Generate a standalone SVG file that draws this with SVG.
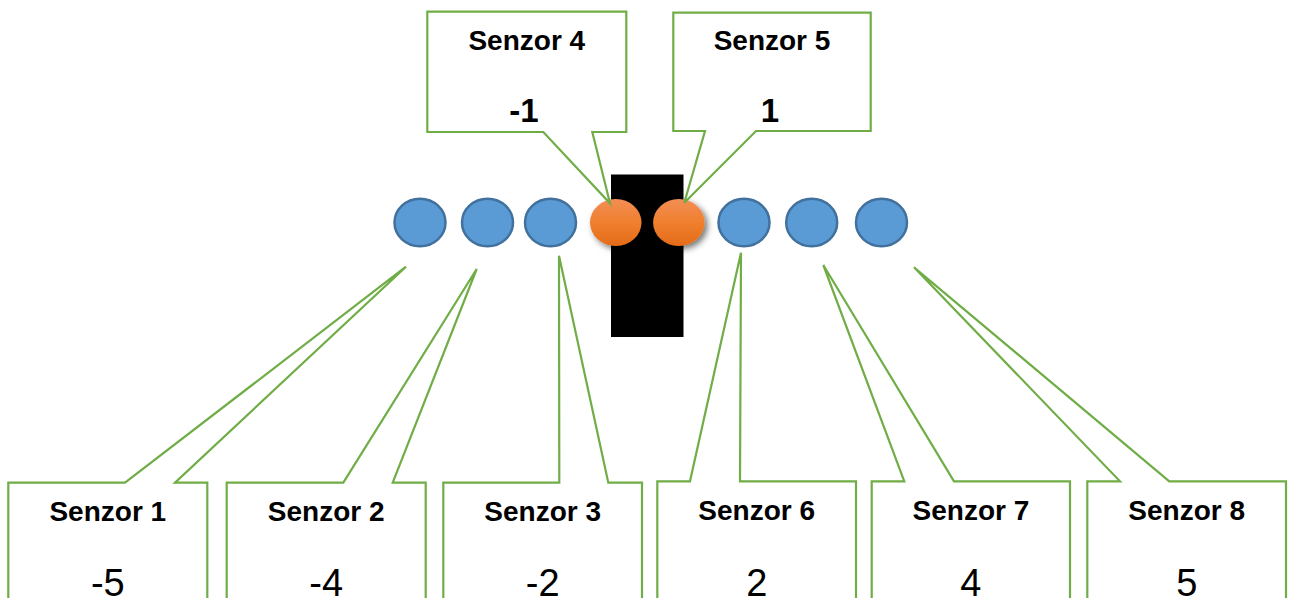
<svg xmlns="http://www.w3.org/2000/svg" width="1292" height="598" viewBox="0 0 1292 598">
  <defs>
    <linearGradient id="orangeFill" x1="0" y1="0" x2="0" y2="1">
      <stop offset="0" stop-color="#F38E55"/>
      <stop offset="0.5" stop-color="#F07F2E"/>
      <stop offset="1" stop-color="#E46C18"/>
    </linearGradient>
    <filter id="softShadow" x="-40%" y="-40%" width="180%" height="180%">
      <feDropShadow dx="3" dy="3" stdDeviation="3" flood-color="#000" flood-opacity="0.55"/>
    </filter>
    <style>
      .sensor { fill: #5B9BD5; stroke: #41719C; stroke-width: 2.5; }
      .active { fill: url(#orangeFill); filter: url(#softShadow); }
      .callout { fill: #FFFFFF; stroke: #70AD47; stroke-width: 2.2; stroke-linejoin: miter; }
      .title { font-family: "Liberation Sans", Arial, sans-serif; font-weight: bold; font-size: 28px; fill: #000; text-anchor: middle; }
      .valTop { font-family: "Liberation Sans", Arial, sans-serif; font-weight: bold; font-size: 33px; fill: #000; text-anchor: middle; }
      .valBottom { font-family: "Liberation Sans", Arial, sans-serif; font-weight: normal; font-size: 38px; fill: #000; text-anchor: middle; }
    </style>
  </defs>

  <rect width="1292" height="598" fill="#FFFFFF"/>

  <!-- line strip under the two middle sensors -->
  <rect id="line" x="611" y="174.5" width="72.5" height="162.5" fill="#000000"/>

  <!-- sensor row -->
  <g id="sensors">
    <ellipse id="s1" class="sensor" cx="420" cy="222.5" rx="25.5" ry="23.8"/>
    <ellipse id="s2" class="sensor" cx="487.5" cy="222.5" rx="25.5" ry="23.8"/>
    <ellipse id="s3" class="sensor" cx="550.5" cy="222.5" rx="25.5" ry="23.8"/>
    <ellipse id="s4" class="active" cx="615.7" cy="222.5" rx="25.7" ry="23.5"/>
    <ellipse id="s5" class="active" cx="678.8" cy="222.5" rx="25.7" ry="23.5"/>
    <ellipse id="s6" class="sensor" cx="744" cy="222.5" rx="25.5" ry="23.8"/>
    <ellipse id="s7" class="sensor" cx="811.7" cy="222.5" rx="25.5" ry="23.8"/>
    <ellipse id="s8" class="sensor" cx="881.5" cy="222.5" rx="25.5" ry="23.8"/>
  </g>

  <!-- callout outlines (box plus pointer) -->
  <g id="connectors">
    <path class="callout" d="M427.3,11.7 H626.3 V132 H592.3 L610,203.3 L543.3,132 H427.3 Z"/>
    <path class="callout" d="M673.3,12.7 H870.7 V131 H756 L684.3,202.7 L705,131 H673.3 Z"/>
    <path class="callout" d="M8.3,482.7 H125 L406,266.7 L175,482.7 H207.3 V612 H8.3 Z"/>
    <path class="callout" d="M226.7,482.7 H343.3 L476.7,269 L392.7,482.7 H425.7 V612 H226.7 Z"/>
    <path class="callout" d="M443.3,482.7 H559.3 L559,255.7 L608.3,482.7 H642 V612 H443.3 Z"/>
    <path class="callout" d="M657.3,481.3 H690 L741,252.7 L740,481.3 H856 V612 H657.3 Z"/>
    <path class="callout" d="M871.7,481.3 H904.3 L823.3,265 L954,481.3 H1070 V612 H871.7 Z"/>
    <path class="callout" d="M1087.3,481.3 H1120 L914,267.3 L1169.3,481.3 H1286 V612 H1087.3 Z"/>
  </g>

  <!-- callout labels -->
  <g id="label4">
    <text class="title" x="526.8" y="50">Senzor 4</text>
    <text class="valTop" x="524" y="122">-1</text>
  </g>
  <g id="label5">
    <text class="title" x="772" y="50">Senzor 5</text>
    <text class="valTop" x="770" y="122">1</text>
  </g>
  <g id="label1">
    <text class="title" x="107.8" y="520.5">Senzor 1</text>
    <text class="valBottom" x="107.8" y="595.5">-5</text>
  </g>
  <g id="label2">
    <text class="title" x="326.2" y="520.5">Senzor 2</text>
    <text class="valBottom" x="326.2" y="595.5">-4</text>
  </g>
  <g id="label3">
    <text class="title" x="542.7" y="520.5">Senzor 3</text>
    <text class="valBottom" x="542.7" y="595.5">-2</text>
  </g>
  <g id="label6">
    <text class="title" x="756.7" y="520">Senzor 6</text>
    <text class="valBottom" x="756.7" y="595.5">2</text>
  </g>
  <g id="label7">
    <text class="title" x="970.9" y="520">Senzor 7</text>
    <text class="valBottom" x="970.9" y="595.5">4</text>
  </g>
  <g id="label8">
    <text class="title" x="1186.7" y="520">Senzor 8</text>
    <text class="valBottom" x="1186.7" y="595.5">5</text>
  </g>
</svg>
